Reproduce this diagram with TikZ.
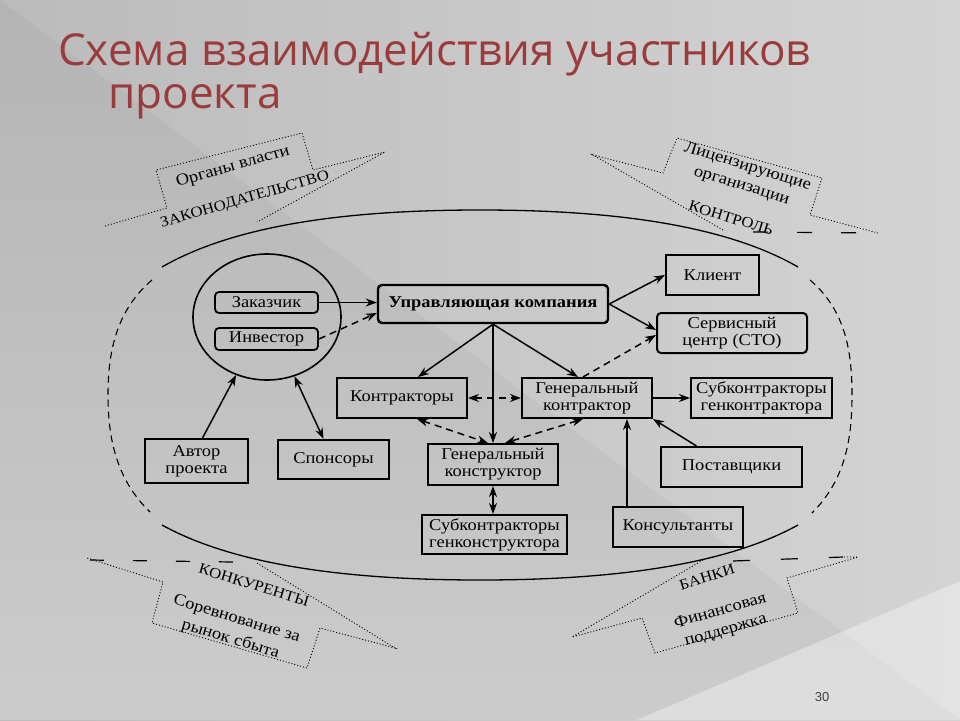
\documentclass[tikz,border=0pt]{standalone}
\usepackage{fontspec}
\setmainfont[FakeStretch=1.12]{Liberation Serif}
\newfontfamily\titlefont{Open Sans}
\newfontfamily\numfont{Liberation Sans}
\usetikzlibrary{arrows.meta}
\usetikzlibrary{shapes.geometric}

\definecolor{titlered}{HTML}{9B3C3C}
\definecolor{bgleft}{HTML}{BBBBBB}
\definecolor{bgright}{HTML}{D4D4D4}
\definecolor{shadetop}{HTML}{B4B4B4}
\definecolor{shadebot}{HTML}{CCCCCC}

\begin{document}
\begin{tikzpicture}[x=1pt,y=-1pt]

\tikzstyle{every node}=[font=\fontsize{16.5}{17}\selectfont]
\tikzstyle{box}=[draw, line width=2pt, align=center, inner sep=0pt, minimum height=40]
\tikzstyle{rbox}=[box, rounded corners=4pt]
\tikzstyle{boldbox}=[rbox, line width=2.4pt, font=\fontsize{16.5}{17}\selectfont\bfseries]
\tikzstyle{caps}=[font=\fontsize{15}{16}\selectfont]
\tikzstyle{twoline}=[align=center, inner sep=1pt, font=\fontsize{16.5}{20}\selectfont]
\tikzstyle{link}=[line width=1.5pt, >={Stealth[length=11pt,width=8pt]}, ->]
\tikzstyle{dlink}=[link, dash pattern=on 7pt off 5pt]
\tikzstyle{flag}=[line width=0.9pt, dash pattern=on 1pt off 2pt]
\tikzstyle{gap}=[line width=1.2pt, dash pattern=on 15pt off 29pt]
\tikzstyle{rim}=[line width=1.3pt]

% background
\useasboundingbox (0,0) rectangle (960,720);
\shade[left color=bgleft, right color=bgright] (0,0) rectangle (960,720);
\shade[top color=shadetop, bottom color=shadebot] (0,0) -- (960,720) -- (0,720) -- cycle;
\fill[white, opacity=0.35] (960,581) -- (960,720) -- (637,720) -- cycle;

% title
\node (title1) at (58,65) [anchor=base west, inner sep=0pt, text=titlered,
	font=\titlefont\fontsize{44}{48}\selectfont] {Схема взаимодействия участников};
\node (title2) at (108,108) [anchor=base west, inner sep=0pt, text=titlered,
	font=\titlefont\fontsize{44}{48}\selectfont] {проекта};
\node (pagenum) at (822,697) [font=\numfont\fontsize{13}{14}\selectfont, text=black!75] {30};

% outer field
\draw[rim] (162,267) .. controls (240,222) and (360,210) .. (480,210)
	.. controls (600,210) and (720,222) .. (798,267);
\draw[rim] (162,525) .. controls (240,568) and (360,580) .. (480,580)
	.. controls (600,580) and (720,568) .. (798,525);
\draw[line width=1.1pt, dash pattern=on 7pt off 5pt]
	(152,280) .. controls (117,310) and (108,350) .. (108,395)
	.. controls (108,440) and (117,480) .. (150,512);
\draw[line width=1.1pt, dash pattern=on 7pt off 5pt]
	(810,280) .. controls (845,310) and (852,350) .. (852,395)
	.. controls (852,440) and (845,480) .. (812,513);

% corner flags
\draw[flag] (105,226) -- (167,208) -- (156,170) -- (302,133) -- (313,170) -- (385,152) -- (257,222);
\node (vlast) at (233,167) [inner sep=1pt, rotate=16] {Органы власти};
\node (zakon) at (245,200) [caps, inner sep=1pt, rotate=16] {ЗАКОНОДАТЕЛЬСТВО};

\draw[flag] (723,230) -- (593,155) -- (663,173) -- (677,138) -- (822,178) -- (810,215) -- (878,233);
\draw[gap] (753,232) -- (878,233);
\node (licenz) at (744.5,176.5) [twoline, rotate=-17] {Лицензирующие\\организации};
\node (kontrol) at (731,218) [caps, inner sep=1pt, rotate=-17] {КОНТРОЛЬ};

\draw[flag] (257,563) -- (395,648) -- (320,628) -- (307,668) -- (152,623) -- (163,582) -- (87,558);
\draw[gap, dash pattern=on 14pt off 29pt] (90,560) -- (233,562);
\node (konkur) at (254,585) [caps, inner sep=1pt, rotate=-17] {КОНКУРЕНТЫ};
\node (sorevn) at (233.5,629.5) [twoline, font=\fontsize{16.5}{21}\selectfont, rotate=-17] {Соревнование за\\рынок сбыта};

\draw[flag] (703,560) -- (572,637) -- (642,618) -- (655,653) -- (798,613) -- (787,578) -- (858,557) -- (843,557);
\draw[gap, dash pattern=on 17pt off 31pt] (733,561) -- (843,557);
\node (banki) at (707,577) [caps, inner sep=1pt, rotate=17] {БАНКИ};
\node (finans) at (723,621) [twoline, rotate=16] {Финансовая\\поддержка};

% participants
\node (circ) at (267,317) [ellipse, draw, line width=1.6pt, minimum width=148, minimum height=126] {};
\node (zak) at (266.5,302.5) [rbox, line width=1.8pt, minimum width=103, minimum height=21] {Заказчик};
\node (inv) at (266.5,339) [rbox, line width=1.8pt, minimum width=103, minimum height=22] {Инвестор};
\node (upr) at (493,304) [boldbox, minimum width=230, minimum height=38] {Управляющая компания};
\node (klient) at (712.5,275) [box, minimum width=93] {Клиент};
\node (servis) at (732,333) [rbox, minimum width=150] {Сервисный\\центр (СТО)};
\node (kontr) at (402,398) [box, minimum width=130] {Контракторы};
\node (gkontr) at (587,398) [box, minimum width=130] {Генеральный\\контрактор};
\node (subgk) at (761.5,398) [box, minimum width=141] {Субконтракторы\\генконтрактора};
\node (avtor) at (196.5,461) [box, minimum width=103, minimum height=44] {Автор\\проекта};
\node (spons) at (333.5,459.5) [box, minimum width=111, minimum height=39] {Спонсоры};
\node (gkonstr) at (493,464.5) [box, minimum width=130, minimum height=41] {Генеральный\\конструктор};
\node (subgkonstr) at (494.5,534.5) [box, minimum width=145, minimum height=39] {Субконтракторы\\генконструктора};
\node (postav) at (731.5,467) [box, minimum width=141] {Поставщики};
\node (konsult) at (678,527) [box, minimum width=130] {Консультанты};

% links
\draw[link] (zak.east) -- (zak.east -| upr.west);
\draw[dlink] (inv.east) -- ([yshift=-9pt]upr.west);
\draw[link] (upr.east) -- (klient.west);
\draw[link] (upr.east) -- ([yshift=3pt]servis.west);
\draw[dlink] ([xshift=-4pt]gkontr.north) -- ([yshift=-2pt]servis.west);
\draw[link] (upr.south) -- ([xshift=16pt]kontr.north);
\draw[link] (upr.south) -- ([xshift=-9pt]gkontr.north);
\draw[link] (upr.south) -- (gkonstr.north);
\draw[dlink, <->] (kontr.east) -- (gkontr.west);
\draw[dlink, <->] ([xshift=15pt]kontr.south) -- ([xshift=-5pt]gkonstr.north);
\draw[dlink, <->] ([xshift=-4pt]gkontr.south) -- ([xshift=12pt]gkonstr.north);
\draw[link, <->] (gkonstr.south) -- (gkonstr.south |- subgkonstr.north);
\draw[link] (gkontr.east) -- (subgk.west);
\draw[link] ([xshift=-51pt]konsult.north) -- ([xshift=-51pt]konsult.north |- gkontr.south);
\draw[link] ([xshift=-35pt]postav.north) -- (gkontr.south east);
\draw[link] ([xshift=6pt]avtor.north) -- (circ);
\draw[link, <->] ([xshift=-10pt]spons.north) -- (circ);
\end{tikzpicture}
\end{document}
